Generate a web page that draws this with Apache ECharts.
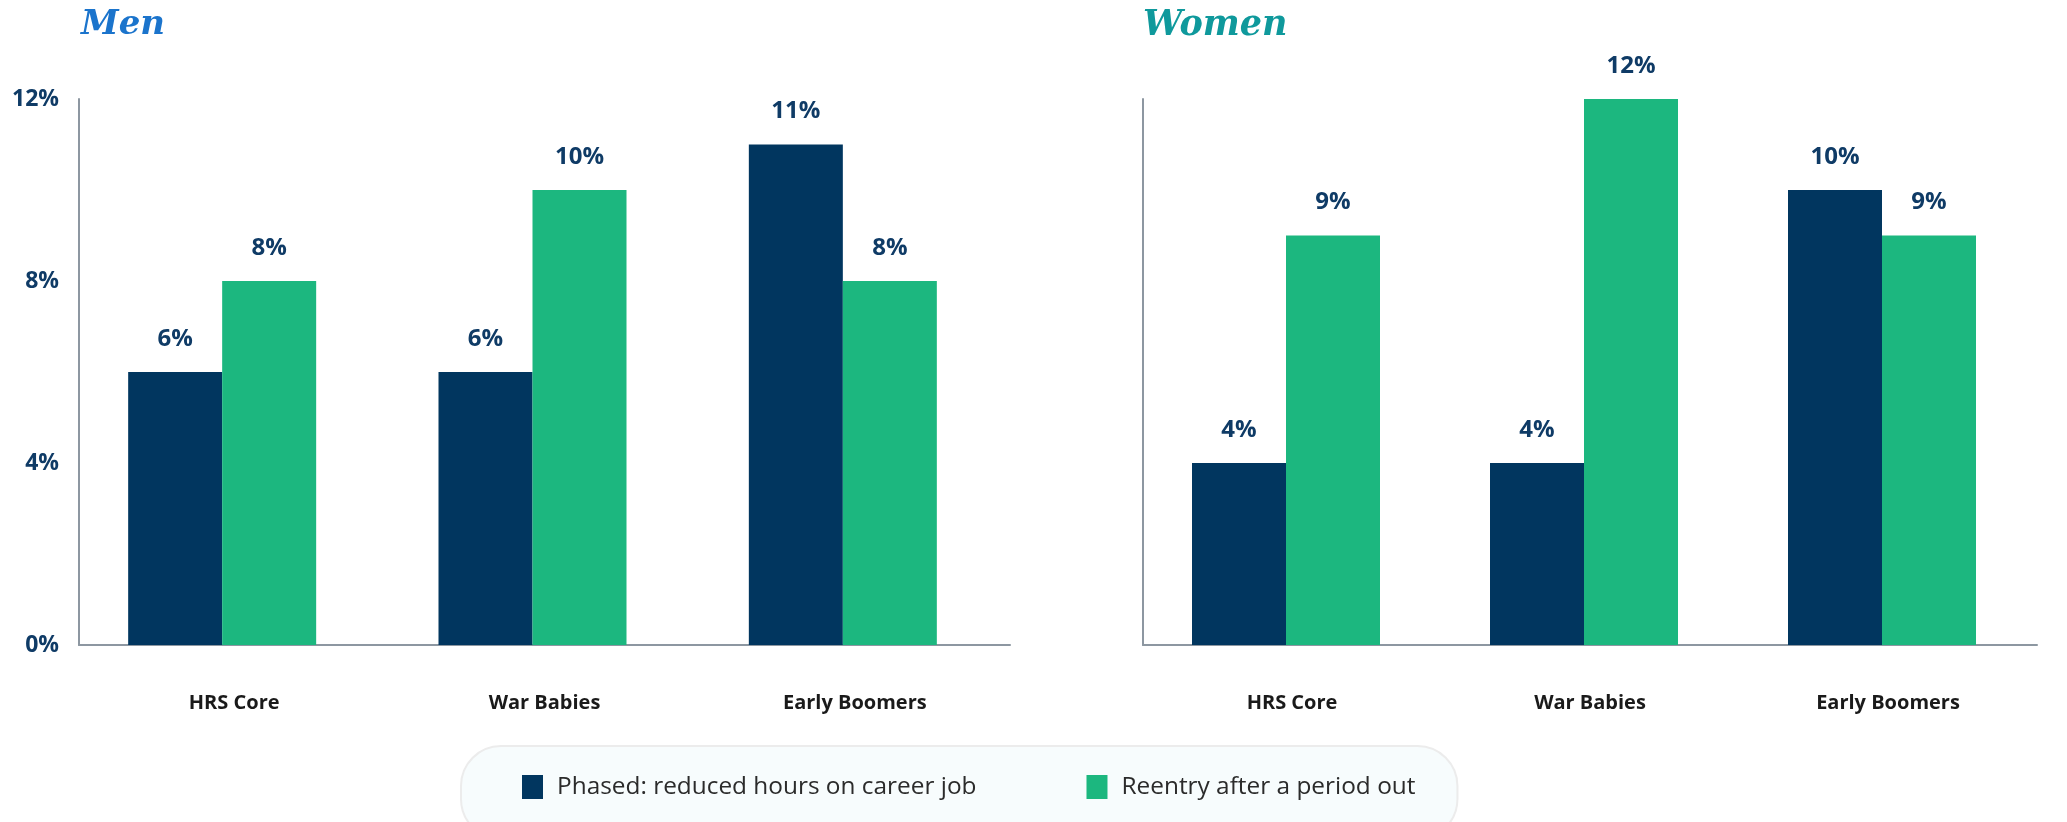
<!DOCTYPE html>
<html>
<head>
<meta charset="utf-8">
<script src="https://cdn.jsdelivr.net/npm/echarts@6/dist/echarts.min.js"></script>
<style>
  html, body { margin: 0; padding: 0; background: #fff; }
  #chart { width: 2067px; height: 822px; }
</style>
</head>
<body>
<div id="chart"></div>
<script>
// categories and values (percent)
var categories = ['HRS Core', 'War Babies', 'Early Boomers'];
var seriesNames = ['Phased: reduced hours on career job', 'Reentry after a period out'];
var menPhased = [6, 6, 11];
var menReentry = [8, 10, 8];
var womenPhased = [4, 4, 10];
var womenReentry = [9, 12, 9];
var yTicks = [0, 4, 8, 12];

var navy = '#01365f';
var green = '#1cb77f';
var labelColor = '#0f3b66';
var axisColor = '#8d97a1';

var myChart = echarts.init(document.getElementById('chart'));

// grids 0,1 draw the axes; grids 2,3 hold the bars (nudged a bit left like the original)
function xAxisFor(i, visible) {
  return {
    type: 'category', gridIndex: i, data: categories, show: visible,
    axisLine: { lineStyle: { color: axisColor, width: 2 } },
    axisTick: { show: false },
    axisLabel: { color: '#1a1a1a', fontFamily: 'Open Sans', fontWeight: 'bold', fontSize: 20, margin: 48 }
  };
}
function yAxisFor(i, showLabels, visible) {
  return {
    type: 'value', gridIndex: i, min: yTicks[0], max: yTicks[yTicks.length - 1], interval: 4, show: visible,
    axisLine: { show: true, lineStyle: { color: axisColor, width: 2 } },
    axisTick: { show: false },
    splitLine: { show: false },
    axisLabel: {
      show: showLabels, color: labelColor, fontFamily: 'Open Sans', fontWeight: 'bold', fontSize: 23, margin: 20,
      formatter: '{value}%'
    }
  };
}
function barSeries(name, data, color, i) {
  return {
    name: name, type: 'bar', data: data, xAxisIndex: i, yAxisIndex: i,
    barWidth: 94, barGap: '0%',
    itemStyle: { color: color },
    label: {
      show: true, position: 'top', distance: 21, formatter: '{c}%',
      color: labelColor, fontFamily: 'Open Sans', fontWeight: 'bold', fontSize: 24
    }
  };
}

var option = {
  backgroundColor: '#fff',
  animation: false,
  title: [
    { text: 'Men', left: 76, top: 3, textStyle: { color: '#1b74cc', fontFamily: 'DejaVu Serif', fontStyle: 'italic', fontWeight: 'bold', fontSize: 34 } },
    { text: 'Women', left: 1138, top: 3, textStyle: { color: '#0f999c', fontFamily: 'DejaVu Serif', fontStyle: 'italic', fontWeight: 'bold', fontSize: 35 } }
  ],
  legend: {
    data: seriesNames,
    left: 461, top: 746,
    padding: [29, 42, 40, 61],
    itemWidth: 21, itemHeight: 24, itemGap: 110,
    backgroundColor: '#f7fcfd', borderColor: '#ececec', borderWidth: 2, borderRadius: 40,
    textStyle: { color: '#2b2b2b', fontFamily: 'Open Sans', fontSize: 24.4, padding: [0, 0, 0, 9] },
    icon: 'rect'
  },
  grid: [
    { left: 79, right: 1057, top: 99, bottom: 177 },
    { left: 1143, right: 30, top: 99, bottom: 177 },
    { left: 67, right: 1069, top: 99, bottom: 177 },
    { left: 1137, right: 36, top: 99, bottom: 177 }
  ],
  xAxis: [xAxisFor(0, true), xAxisFor(1, true), xAxisFor(2, false), xAxisFor(3, false)],
  yAxis: [yAxisFor(0, true, true), yAxisFor(1, false, true), yAxisFor(2, false, false), yAxisFor(3, false, false)],
  series: [
    barSeries(seriesNames[0], menPhased, navy, 2),
    barSeries(seriesNames[1], menReentry, green, 2),
    barSeries(seriesNames[0], womenPhased, navy, 3),
    barSeries(seriesNames[1], womenReentry, green, 3)
  ]
};

myChart.setOption(option);
</script>
</body>
</html>
